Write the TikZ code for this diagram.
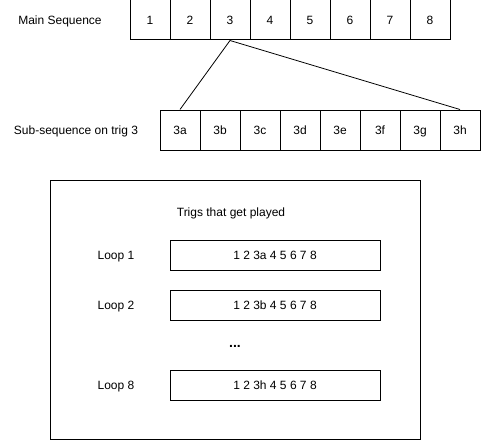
\documentclass[tikz,border=0pt]{standalone}
\usepackage{fontspec}
\setmainfont{Liberation Sans}
\begin{document}
\begin{tikzpicture}[x=1pt,y=-1pt,
  txt/.style={font=\fontsize{12}{14}\selectfont,text height=8.6pt,text depth=0pt},
  cell/.style={txt,draw,line width=1pt,minimum width=40pt,minimum height=40pt,inner sep=0pt},
  wide/.style={txt,draw,line width=1pt,minimum width=210pt,minimum height=30pt,inner sep=0pt},
  lbl/.style={txt,inner sep=0pt}]
\useasboundingbox (0,0) rectangle (481,441);
\node[lbl] (mainlbl) at (60,20) {Main Sequence};
\foreach \i in {1,...,8}{
  \node[cell] (m\i) at ({130+40*\i-20},20) {\i};
}
\node[lbl] (sublbl) at (76,130) {Sub-sequence on trig 3};
\foreach \l [count=\i] in {a,b,c,d,e,f,g,h}{
  \node[cell] (s\i) at ({160+40*\i-20},130) {3\l};
}
\draw[line width=0.8pt] (s1.north) -- (m3.south) -- (s8.north);
\node[draw,line width=1pt,minimum width=370pt,minimum height=259pt,inner sep=0pt] (frame) at (235,309.5) {};
\node[lbl] (title) at (231,212) {Trigs that get played};
\node[lbl] (l1) at (116,255) {Loop 1};
\node[wide] (r1) at (275,255) {1 2 3a 4 5 6 7 8};
\node[lbl] (l2) at (116,305) {Loop 2};
\node[wide] (r2) at (275,305) {1 2 3b 4 5 6 7 8};
\node[lbl,font=\fontsize{14}{16}\bfseries] (dots) at (235,343) {...};
\node[lbl] (l8) at (116,385) {Loop 8};
\node[wide] (r8) at (275,385) {1 2 3h 4 5 6 7 8};
\end{tikzpicture}
\end{document}
